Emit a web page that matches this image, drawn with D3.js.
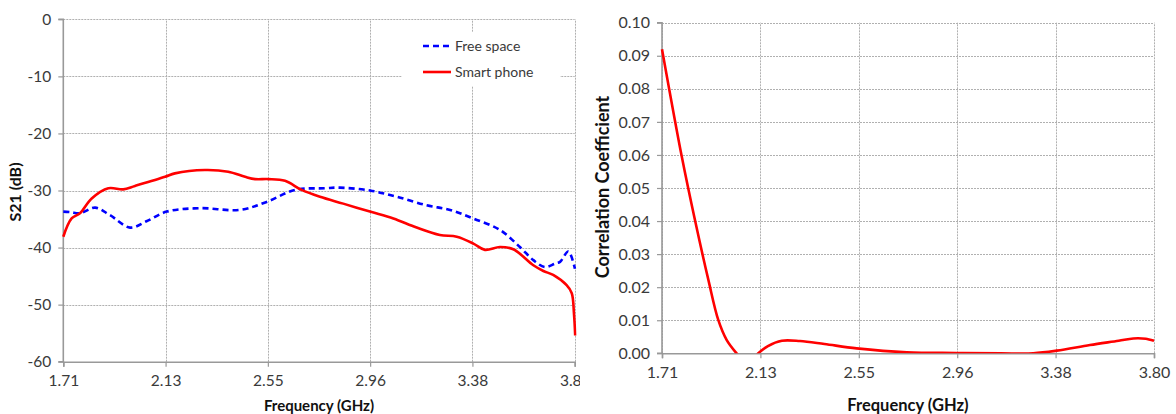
<!DOCTYPE html>
<html><head><meta charset="utf-8">
<script src="https://cdn.jsdelivr.net/npm/d3@7/dist/d3.min.js"></script>
<style>
body{margin:0;background:#fff}
svg{display:block}
text{font-family:Lato,"Open Sans","Noto Sans",sans-serif}
</style>
</head><body>
<svg id="c" width="1176" height="414"></svg>
<script>
// ---- data ----
const freqTicks = [1.71, 2.128, 2.546, 2.964, 3.382, 3.80];
const freqTickLabels = ["1.71", "2.13", "2.55", "2.96", "3.38", "3.80"];
const s21Ticks = [0, -10, -20, -30, -40, -50, -60];
const corrTicks = [0, 0.01, 0.02, 0.03, 0.04, 0.05, 0.06, 0.07, 0.08, 0.09, 0.10];

const seriesNames = ["Free space", "Smart phone"];

const freeFreq = [1.71, 1.74, 1.778, 1.84, 1.90, 1.983, 2.05, 2.133, 2.269, 2.432, 2.541, 2.657, 2.779, 2.84, 2.963, 3.073, 3.195, 3.291, 3.385, 3.494, 3.576, 3.631, 3.678, 3.72, 3.74, 3.774, 3.801];
const freeS21  = [-33.7, -33.8, -34.0, -33.0, -34.3, -36.5, -35.4, -33.7, -33.1, -33.4, -32.0, -29.9, -29.6, -29.5, -30.0, -31.1, -32.6, -33.4, -34.9, -36.9, -39.9, -42.2, -43.4, -42.8, -42.5, -40.7, -43.7];

const phoneFreq = [1.71, 1.744, 1.778, 1.826, 1.894, 1.955, 2.003, 2.126, 2.166, 2.289, 2.384, 2.453, 2.494, 2.548, 2.616, 2.684, 2.759, 2.854, 2.963, 3.059, 3.154, 3.249, 3.318, 3.386, 3.433, 3.494, 3.549, 3.631, 3.672, 3.712, 3.767, 3.788, 3.797, 3.802];
const phoneS21  = [-38.1, -34.9, -34.0, -31.4, -29.6, -29.8, -29.2, -27.6, -27.0, -26.4, -26.7, -27.6, -28.0, -28.0, -28.3, -29.9, -31.1, -32.3, -33.7, -34.9, -36.5, -37.8, -38.1, -39.3, -40.4, -39.9, -40.3, -43.1, -44.1, -44.8, -46.6, -48.0, -51.6, -55.4];

const corrFreq = [1.71, 1.794, 1.85, 1.907, 1.949, 1.985, 2.027, 2.06, 2.09, 2.119, 2.16, 2.219, 2.296, 2.40, 2.537, 2.75, 2.962, 3.15, 3.287, 3.387, 3.528, 3.65, 3.712, 3.765, 3.80];
const corrVal  = [0.092, 0.0595, 0.0403, 0.0222, 0.0101, 0.0040, 0.0, -0.0025, -0.0022, 0.0, 0.0022, 0.0038, 0.0037, 0.0028, 0.0015, 0.0003, 0.0001, 0.0, 0.0, 0.0008, 0.0025, 0.0038, 0.0045, 0.0044, 0.0038];

// ---- drawing ----
const svg = d3.select("#c");
const defs = svg.append("defs");

function panel(opts) {
  const root = svg.append("g");
  if (opts.clipW) {
    defs.append("clipPath").attr("id", opts.id + "-panel").append("rect")
      .attr("x", opts.clipX).attr("y", 0).attr("width", opts.clipW).attr("height", 414);
    root.attr("clip-path", `url(#${opts.id}-panel)`);
  }
  const x = d3.scaleLinear().domain([1.71, 3.80]).range(opts.xr);
  const y = d3.scaleLinear().domain(opts.yd).range(opts.yr);
  const [x0, x1] = opts.xr, [y0, y1] = opts.yr; // y0 bottom, y1 top

  // grid
  const grid = root.append("g").attr("stroke", "#b0b0b0").attr("stroke-width", 1).attr("stroke-dasharray", "2,1");
  grid.selectAll("line.h").data(opts.yTicks).join("line")
    .attr("x1", x0).attr("x2", x1).attr("y1", d => Math.round(y(d)) + 0.5).attr("y2", d => Math.round(y(d)) + 0.5);
  grid.selectAll("line.v").data(freqTicks).join("line")
    .attr("y1", y0).attr("y2", y1).attr("x1", d => Math.round(x(d)) + 0.5).attr("x2", d => Math.round(x(d)) + 0.5);

  // legend background (covers grid)
  if (opts.legend) {
    root.append("rect").attr("x", opts.legend.bx).attr("y", opts.legend.by)
      .attr("width", opts.legend.bw).attr("height", opts.legend.bh).attr("fill", "#fff");
  }

  // axes
  const yAxis = d3.axisLeft(y).tickValues(opts.yTicks).tickSize(5).tickPadding(7).tickFormat(opts.yFmt);
  const gy = root.append("g").attr("transform", `translate(${x0},0)`).call(yAxis);
  const xAxis = d3.axisBottom(x).tickValues(freqTicks).tickSize(5).tickPadding(8)
    .tickFormat((d, i) => freqTickLabels[i]);
  const gx = root.append("g").attr("transform", `translate(0,${y0})`).call(xAxis);
  [gx, gy].forEach(g => {
    g.select(".domain").attr("stroke", "#999").attr("stroke-width", 1.6);
    g.selectAll(".tick line").attr("stroke", "#999").attr("stroke-width", 1.2);
    g.selectAll(".tick text").attr("fill", "#3a3a3a").style("font-size", opts.tickSize).style("font-family", "Lato, sans-serif");
  });
  gy.select(".domain").attr("d", `M-5,${y1}H0V${y0}H-5`);

  // titles
  root.append("text").attr("x", opts.xTitleX).attr("y", 411).attr("text-anchor", "middle")
    .style("font-size", opts.xTitleSize).style("font-weight", "bold").attr("fill", "#111").text("Frequency (GHz)");
  root.append("text").attr("transform", `translate(${opts.yTitleX},${opts.yTitleY}) rotate(-90)`)
    .attr("text-anchor", "middle").style("font-size", opts.yTitleSize).style("font-weight", "bold")
    .attr("fill", "#111").text(opts.yTitle);

  // series
  defs.append("clipPath").attr("id", opts.id + "-plot").append("rect")
    .attr("x", x0 - 2).attr("y", y1).attr("width", x1 - x0 + 4).attr("height", y0 - y1);
  const plot = root.append("g").attr("clip-path", `url(#${opts.id}-plot)`);
  const line = d3.line().x(d => x(d[0])).y(d => y(d[1])).curve(d3.curveCatmullRom.alpha(0.5));
  opts.series.forEach(s => {
    plot.append("path").datum(d3.zip(s.f, s.v)).attr("d", line)
      .attr("fill", "none").attr("stroke", s.color).attr("stroke-width", 2.6)
      .attr("stroke-dasharray", s.dash || null).attr("stroke-linejoin", "round");
  });

  if (opts.legend) {
    const L = opts.legend;
    opts.series.forEach((s, i) => {
      const yy = L.y + i * L.dy;
      root.append("line").attr("x1", L.x).attr("x2", L.x + 28).attr("y1", yy).attr("y2", yy)
        .attr("stroke", s.color).attr("stroke-width", 2.6).attr("stroke-dasharray", s.dash || null);
      root.append("text").attr("x", L.x + 32).attr("y", yy + 5).style("font-size", "14px")
        .attr("fill", "#3a3a3a").text(s.name);
    });
  }
}

panel({
  id: "left", clipX: 0, clipW: 580,
  xr: [63.3, 574.7], yd: [-60, 0], yr: [361.7, 19.3],
  yTicks: s21Ticks, yFmt: d => String(d), tickSize: "15.5px",
  xTitleX: 319, xTitleSize: "15px",
  yTitle: "S21 (dB)", yTitleX: 21, yTitleY: 192, yTitleSize: "16px",
  series: [
    { name: seriesNames[0], f: freeFreq, v: freeS21, color: "#0000ff", dash: "6,4" },
    { name: seriesNames[1], f: phoneFreq, v: phoneS21, color: "#ff0000" }
  ],
  legend: { x: 423, y: 46, dy: 26, bx: 402, by: 32, bw: 158, bh: 54 }
});

panel({
  id: "right",
  xr: [662, 1154], yd: [0, 0.10], yr: [353.3, 22.7],
  yTicks: corrTicks, yFmt: d3.format(".2f"), tickSize: "16px",
  xTitleX: 908, xTitleSize: "16.5px",
  yTitle: "Correlation Coefficient", yTitleX: 609, yTitleY: 187, yTitleSize: "18px",
  series: [
    { name: "Correlation", f: corrFreq, v: corrVal, color: "#ff0000" }
  ]
});
</script>
</body></html>
